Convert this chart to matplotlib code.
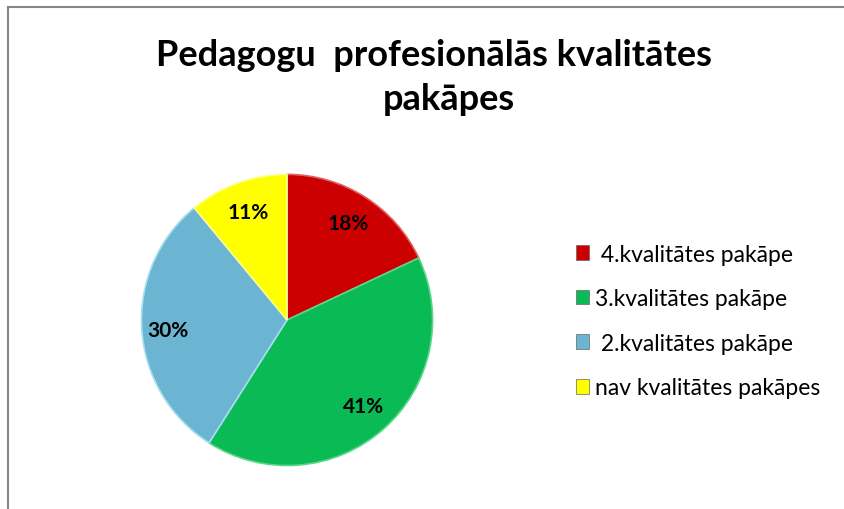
import matplotlib.pyplot as plt
from matplotlib.lines import Line2D
from matplotlib.patches import Patch

title_lines = ["Pedagogu  profesionālās kvalitātes", "pakāpes"]
labels = [" 4.kvalitātes pakāpe", "3.kvalitātes pakāpe",
          " 2.kvalitātes pakāpe", "nav kvalitātes pakāpes"]
values = [18, 41, 30, 11]
colors = ["#CC0000", "#0ABA55", "#6BB5D3", "#FFFF00"]
edges = ["#E06060", "#5AD88A", "#A8DDF0", "#FFFF90"]

plt.rcParams['font.family'] = ['Lato', 'DejaVu Sans']

fig = plt.figure(figsize=(8.45, 5.1), dpi=100)

# chart border (top and left only visible)
fig.add_artist(Line2D([8/845, 1], [1 - 8/510, 1 - 8/510], color="#868686", lw=1.5,
                      transform=fig.transFigure))
fig.add_artist(Line2D([8.5/845, 8.5/845], [0, 1 - 8/510], color="#868686", lw=1.5,
                      transform=fig.transFigure))

fig.text(434/845, 1 - 56/510, title_lines[0], ha="center", va="center", fontsize=26,
         fontweight="bold")
fig.text(449/845, 1 - 100/510, title_lines[1], ha="center", va="center", fontsize=26,
         fontweight="bold")

ax = fig.add_axes([0.1657, 0.0824, 0.348, 0.5765])
wedges, texts, autotexts = ax.pie(values, colors=colors, startangle=90, counterclock=False,
                                  autopct="%d%%", pctdistance=0.79, radius=1,
                                  wedgeprops=dict(linewidth=1.2),
                                  textprops=dict(fontsize=15, fontweight="bold"))
for w, e in zip(wedges, edges):
    w.set_edgecolor(e)
autotexts[2].set_position((-0.816, -0.068))
ax.set_xlim(-1.01, 1.01)
ax.set_ylim(-1.01, 1.01)
ax.set_aspect("equal")

handles = [Patch(facecolor=c, edgecolor="#666666", linewidth=0.5) for c in colors]
fig.legend(handles, labels, loc="upper left", bbox_to_anchor=(555/845, 1 - 224/510),
           frameon=False, fontsize=16.5, handlelength=0.6, handleheight=0.6,
           handletextpad=0.25, labelspacing=1.03)

fig.savefig("out.png", dpi=100)
